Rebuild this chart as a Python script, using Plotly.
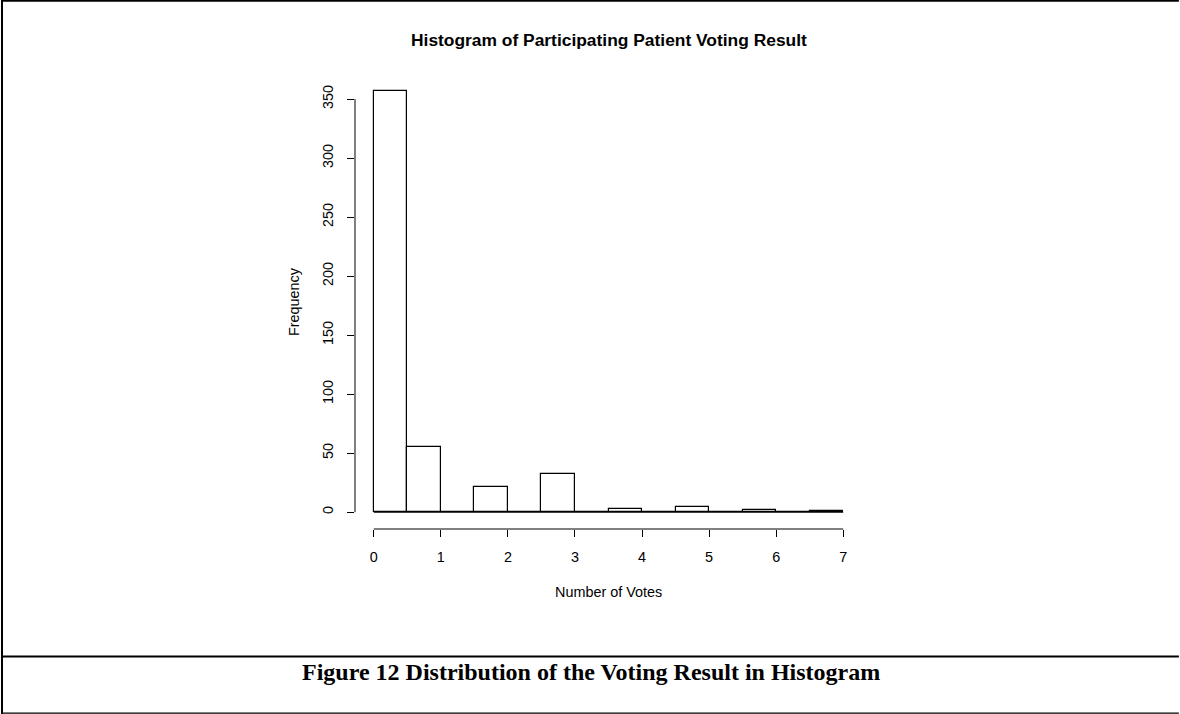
import plotly.graph_objects as go

# Histogram of votes per participating patient (bin width 0.5)
bin_edges = [0, 0.5, 1, 1.5, 2, 2.5, 3, 3.5, 4, 4.5, 5, 5.5, 6, 6.5, 7]
counts = [357, 55, 0, 21, 0, 32, 0, 3, 0, 4, 0, 2, 0, 1]
x_ticks = [0, 1, 2, 3, 4, 5, 6, 7]
y_ticks = [0, 50, 100, 150, 200, 250, 300, 350]

title_text = "Histogram of Participating Patient Voting Result"
x_title = "Number of Votes"
y_title = "Frequency"
caption = "Figure 12 Distribution of the Voting Result in Histogram"

W, H = 1180, 714
# plot region in pixels
L, R_, T, B = 354.5, 862.5, 74.0, 529.0
PW, PH = R_ - L, B - T


def px(xp):
    return (xp - L) / PW


def py(yp):
    return (B - yp) / PH


centers = [(a + b) / 2 for a, b in zip(bin_edges[:-1], bin_edges[1:])]
widths = [b - a for a, b in zip(bin_edges[:-1], bin_edges[1:])]

fig = go.Figure()
fig.add_trace(go.Bar(
    x=centers, y=counts, width=widths,
    marker=dict(color="white", line=dict(color="black", width=1.2)),
    hoverinfo="x+y", showlegend=False,
))

# R-style extended ranges (4% padding)
xr = [bin_edges[0] - 0.04 * (bin_edges[-1] - bin_edges[0]),
      bin_edges[-1] + 0.04 * (bin_edges[-1] - bin_edges[0])]
ymax = max(counts)
yr = [-0.04 * ymax, ymax * 1.04]

font_main = "Liberation Sans, Arial, Helvetica, sans-serif"
tick_font = dict(family=font_main, size=14.4, color="black")

shapes = [
    # x axis line spanning first..last tick
    dict(type="line", xref="x", yref="paper", x0=x_ticks[0], x1=x_ticks[-1],
         y0=0, y1=0, line=dict(color="black", width=1)),
    # y axis line spanning first..last tick
    dict(type="line", xref="paper", yref="y", x0=0, x1=0,
         y0=y_ticks[0], y1=y_ticks[-1], line=dict(color="black", width=1)),
    # baseline of the histogram (empty bins)
    dict(type="line", xref="x", yref="y", x0=bin_edges[0], x1=bin_edges[-1],
         y0=0, y1=0, line=dict(color="black", width=1.2), layer="below"),
    # page frame
    dict(type="line", xref="paper", yref="paper", x0=px(0), x1=px(W),
         y0=py(0.8), y1=py(0.8), line=dict(color="black", width=2)),
    dict(type="line", xref="paper", yref="paper", x0=px(0.8), x1=px(0.8),
         y0=py(0), y1=py(H), line=dict(color="black", width=2)),
    dict(type="line", xref="paper", yref="paper", x0=px(0), x1=px(W),
         y0=py(656.5), y1=py(656.5), line=dict(color="black", width=2.2)),
    dict(type="line", xref="paper", yref="paper", x0=px(0), x1=px(W),
         y0=py(713.2), y1=py(713.2), line=dict(color="black", width=1.3)),
]

annotations = [
    dict(text="<b>" + title_text + "</b>", xref="paper", yref="paper",
         x=px(609), y=py(39.5), showarrow=False, xanchor="center", yanchor="middle",
         font=dict(family=font_main, size=17.4, color="black")),
    dict(text=x_title, xref="paper", yref="paper",
         x=px(608.5), y=py(592), showarrow=False, xanchor="center", yanchor="middle",
         font=dict(family=font_main, size=14.4, color="black")),
    dict(text=y_title, xref="paper", yref="paper", textangle=-90,
         x=px(293), y=py(301.5), showarrow=False, xanchor="center", yanchor="middle",
         font=dict(family=font_main, size=14.4, color="black")),
    dict(text="<b>" + caption + "</b>", xref="paper", yref="paper",
         x=px(590.5), y=py(672), showarrow=False, xanchor="center", yanchor="middle",
         font=dict(family="Liberation Serif, Times New Roman, serif", size=24, color="black")),
]

fig.update_layout(
    width=W, height=H,
    margin=dict(l=L, r=W - R_, t=T, b=H - B, pad=0, autoexpand=False),
    paper_bgcolor="white", plot_bgcolor="white",
    bargap=0, showlegend=False,
    shapes=shapes, annotations=annotations,
    xaxis=dict(range=xr, tickvals=x_ticks, ticktext=[str(v) for v in x_ticks],
               showgrid=False, zeroline=False, showline=False,
               ticks="outside", ticklen=7, tickwidth=1, tickcolor="black",
               tickfont=tick_font, ticklabelstandoff=8, automargin=False,
               fixedrange=True),
    yaxis=dict(range=yr, tickvals=y_ticks, ticktext=[str(v) for v in y_ticks],
               showgrid=False, zeroline=False, showline=False,
               ticks="outside", ticklen=7, tickwidth=1, tickcolor="black",
               tickfont=tick_font, tickangle=-90, ticklabelstandoff=8,
               automargin=False, fixedrange=True),
)

fig.write_html("out.html", config=dict(displayModeBar=False))
